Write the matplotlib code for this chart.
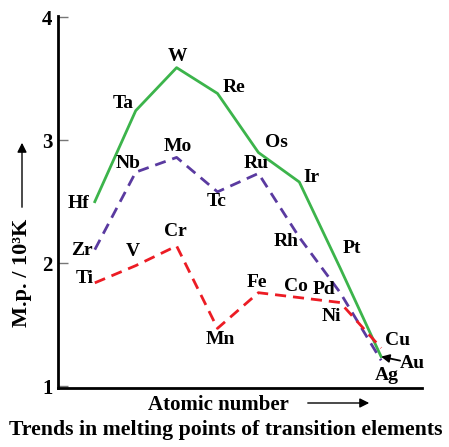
import matplotlib.pyplot as plt
import numpy as np

# melting points (10^3 K)
series_3d = ["Ti", "V", "Cr", "Mn", "Fe", "Co", "Ni", "Cu"]
mp_3d = [1.84, 1.98, 2.14, 1.47, 1.76, 1.72, 1.68, 1.31]

series_4d = ["Zr", "Nb", "Mo", "Tc", "Ru", "Rh", "Pd", "Ag"]
mp_4d = [2.11, 2.74, 2.86, 2.58, 2.73, 2.21, 1.76, 1.21]

series_5d = ["Hf", "Ta", "W", "Re", "Os", "Ir", "Pt", "Au"]
mp_5d = [2.50, 3.24, 3.59, 3.38, 2.90, 2.66, 1.96, 1.24]

yticks = [1, 2, 3, 4]

# label offsets in pixels (dx, dy)
off_3d = [(-10, 4), (-3, 14), (-1, 14), (3, -11), (-2, 10), (-3, 11), (-9, -14), (16, 8)]
off_4d = [(-13, -1), (-8, 9), (1, 11), (-1, -10), (-2, 10), (-13, -4), (-16, 3), (6, -15)]
off_5d = [(-16, -2), (-13, 7), (1, 11), (17, 6), (18, 10), (12, 5), (12, 20), (31, -7)]

plt.rcParams['font.family'] = ['Liberation Serif', 'DejaVu Serif']
plt.rcParams['font.weight'] = 'bold'

fig = plt.figure(figsize=(4.49, 4.47), dpi=100)
ax = fig.add_axes([58 / 449, 59 / 447, 364 / 449, 372 / 447])

x = np.arange(8)
ax.plot(x, mp_5d, color='#3cb44b', lw=2)
ax.plot(x, mp_4d, color='#5a3aa0', lw=2, linestyle=(0, (4, 2.5)))
ax.plot(x, mp_3d, color='#ec1c24', lw=2, linestyle=(0, (4, 2.5)))

for names, vals, offs in [(series_3d, mp_3d, off_3d), (series_4d, mp_4d, off_4d),
                          (series_5d, mp_5d, off_5d)]:
    for i, (n, v, o) in enumerate(zip(names, vals, offs)):
        ax.annotate(n, (x[i], v), xytext=o, textcoords='offset pixels',
                    ha='center', va='center', fontsize=14, fontweight='bold')

# arrow pointing to Au
ax.annotate('', (x[7], mp_5d[7]), xytext=(19, -4), textcoords='offset pixels',
            arrowprops=dict(arrowstyle='-|>', color='black', lw=1.3, mutation_scale=12,
                            shrinkA=0, shrinkB=0))

ax.set_xlim(-0.9, 8.0)
ax.set_ylim(0.985, 4.01)
ax.set_xticks([])
ax.set_yticks(yticks)
ax.set_yticklabels([str(t) for t in yticks], fontsize=15, fontweight='bold')
ax.tick_params(axis='y', direction='in', length=7, width=1, color='#777777', pad=4)
for s in ['top', 'right']:
    ax.spines[s].set_visible(False)
for s in ['left', 'bottom']:
    ax.spines[s].set_linewidth(2)

fig.text(22 / 449, 1 - 273 / 447, 'M.p. / 10³K', rotation=90, ha='center', va='center',
         fontsize=16, fontweight='bold')
fig.text(218 / 449, 1 - 405 / 447, 'Atomic number', ha='center', va='center',
         fontsize=15, fontweight='bold')
fig.text(226 / 449, 1 - 430 / 447, 'Trends in melting points of transition elements',
         ha='center', va='center', fontsize=15.7, fontweight='bold')

fig.add_artist(plt.matplotlib.patches.FancyArrowPatch(
    (22 / 449, 1 - 210 / 447), (22 / 449, 1 - 140 / 447), transform=fig.transFigure,
    arrowstyle='-|>', mutation_scale=14, lw=1, color='black'))
fig.add_artist(plt.matplotlib.patches.FancyArrowPatch(
    (305 / 449, 1 - 403 / 447), (372 / 449, 1 - 403 / 447), transform=fig.transFigure,
    arrowstyle='-|>', mutation_scale=14, lw=1, color='black'))

fig.savefig('out.png', dpi=100)
